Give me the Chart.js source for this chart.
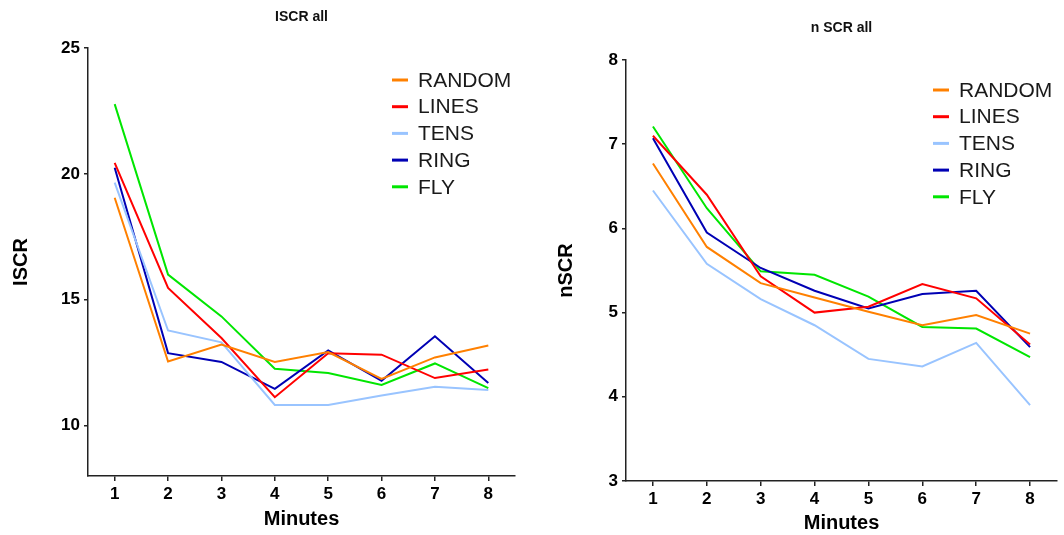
<!DOCTYPE html>
<html>
<head>
<meta charset="utf-8">
<script src="https://cdn.jsdelivr.net/npm/chart.js@4"></script>
<style>
  body { margin: 0; background: #fff; }
  #wrap { position: relative; width: 1064px; height: 535px; }
  canvas { position: absolute; top: 0; }
  #iscrChart { left: 0; }
  #nscrChart { left: 540px; }
</style>
</head>
<body>
<div id="wrap">
  <canvas id="iscrChart" width="540" height="535"></canvas>
  <canvas id="nscrChart" width="524" height="535"></canvas>
</div>
<script>
const minutes = ['1', '2', '3', '4', '5', '6', '7', '8'];
const groups = ['RANDOM', 'LINES', 'TENS', 'RING', 'FLY'];
const groupColors = ['#ff8000', '#ff0000', '#99c4ff', '#0000b4', '#00e600'];

// ISCR all
const iscrRandom = [19.05, 12.55, 13.22, 12.53, 12.92, 11.86, 12.71, 13.18];
const iscrLines  = [20.44, 15.47, 13.48, 11.13, 12.88, 12.82, 11.89, 12.23];
const iscrTens   = [19.65, 13.78, 13.31, 10.82, 10.82, 11.20, 11.54, 11.42];
const iscrRing   = [20.24, 12.88, 12.53, 11.46, 12.99, 11.78, 13.55, 11.69];
const iscrFly    = [22.77, 16.00, 14.34, 12.26, 12.09, 11.62, 12.47, 11.49];
const iscrTicks  = [10, 15, 20, 25];

// nSCR all
const nscrRandom = [6.77, 5.78, 5.35, 5.18, 5.01, 4.85, 4.97, 4.75];
const nscrLines  = [7.10, 6.40, 5.43, 5.00, 5.07, 5.34, 5.17, 4.62];
const nscrTens   = [6.45, 5.58, 5.16, 4.85, 4.45, 4.36, 4.64, 3.90];
const nscrRing   = [7.07, 5.95, 5.53, 5.26, 5.05, 5.22, 5.26, 4.59];
const nscrFly    = [7.21, 6.24, 5.49, 5.45, 5.19, 4.83, 4.81, 4.47];
const nscrTicks  = [3, 4, 5, 6, 7, 8];

const axisColor = '#222';
const tickFont = { family: 'Liberation Sans, Arial, sans-serif', size: 17, weight: 'bold' };
const axisTitleFont = { family: 'Liberation Sans, Arial, sans-serif', size: 20, weight: 'bold' };

// draws the panel title centred over the plot area
const panelTitle = {
  id: 'panelTitle',
  afterDraw(chart, args, opts) {
    const { ctx, chartArea } = chart;
    ctx.save();
    ctx.font = 'bold 14px Liberation Sans, Arial, sans-serif';
    ctx.fillStyle = '#111';
    ctx.textAlign = 'center';
    ctx.textBaseline = 'middle';
    ctx.fillText(opts.text, (chartArea.left + chartArea.right) / 2, opts.y);
    ctx.restore();
  }
};

// legend drawn inside the plot, like the original
const innerLegend = {
  id: 'innerLegend',
  afterDraw(chart, args, opts) {
    const ctx = chart.ctx;
    ctx.save();
    ctx.font = '21px Liberation Sans, Arial, sans-serif';
    ctx.textBaseline = 'middle';
    ctx.textAlign = 'left';
    chart.data.datasets.forEach((ds, i) => {
      const y = opts.y + i * opts.rowHeight;
      ctx.strokeStyle = ds.borderColor;
      ctx.lineWidth = 3;
      ctx.beginPath();
      ctx.moveTo(opts.x, y);
      ctx.lineTo(opts.x + 16, y);
      ctx.stroke();
      ctx.fillStyle = '#1a1a1a';
      ctx.fillText(ds.label, opts.x + 26, y + 1);
    });
    ctx.restore();
  }
};

function makeDatasets(seriesList) {
  return seriesList.map((values, i) => ({
    label: groups[i],
    data: values,
    borderColor: groupColors[i],
    backgroundColor: groupColors[i],
    borderWidth: 2,
    pointRadius: 0,
    tension: 0,
    fill: false
  }));
}

function makeChart(canvasId, cfg) {
  const ctx = document.getElementById(canvasId).getContext('2d');
  return new Chart(ctx, {
    type: 'line',
    data: {
      labels: minutes,
      datasets: makeDatasets(cfg.series)
    },
    options: {
      responsive: false,
      animation: false,
      layout: { padding: { top: cfg.top, right: cfg.right, bottom: 0, left: 0 } },
      plugins: {
        legend: { display: false },
        tooltip: { enabled: false },
        panelTitle: { text: cfg.title, y: cfg.titleY },
        innerLegend: { x: cfg.legendX, y: cfg.legendY, rowHeight: 26.7 }
      },
      scales: {
        x: {
          type: 'category',
          offset: true,
          afterFit: (scale) => { scale.height = cfg.xHeight; },
          grid: { offset: false, drawOnChartArea: false, drawTicks: true, tickLength: 5, color: axisColor, lineWidth: 1.5 },
          border: { display: true, color: axisColor, width: 1.5 },
          ticks: { color: '#000', font: tickFont, padding: 3, maxRotation: 0 },
          title: { display: true, text: 'Minutes', color: '#000', font: axisTitleFont, padding: { top: 0, bottom: cfg.xTitlePad } }
        },
        y: {
          min: cfg.min,
          max: cfg.max,
          afterFit: (scale) => { scale.width = cfg.yWidth; },
          afterBuildTicks: (scale) => { scale.ticks = cfg.ticks.map(v => ({ value: v })); },
          grid: { drawOnChartArea: false, drawTicks: true, tickLength: 4, color: axisColor, lineWidth: 1.5 },
          border: { display: true, color: axisColor, width: 1.5 },
          ticks: { color: '#000', font: tickFont, padding: 4 },
          title: { display: true, text: cfg.yTitle, color: '#000', font: axisTitleFont, padding: { top: cfg.yTitlePad, bottom: 0 } }
        }
      }
    },
    plugins: [panelTitle, innerLegend]
  });
}

makeChart('iscrChart', {
  series: [iscrRandom, iscrLines, iscrTens, iscrRing, iscrFly],
  ticks: iscrTicks, min: 8, max: 25,
  title: 'ISCR all', titleY: 17,
  yTitle: 'ISCR', yTitlePad: 9,
  top: 48, right: 25, yWidth: 88, xHeight: 59, xTitlePad: 4,
  legendX: 392, legendY: 80
});

makeChart('nscrChart', {
  series: [nscrRandom, nscrLines, nscrTens, nscrRing, nscrFly],
  ticks: nscrTicks, min: 3, max: 8,
  title: 'n SCR all', titleY: 28,
  yTitle: 'nSCR', yTitlePad: 14,
  top: 60, right: 7, yWidth: 86, xHeight: 54, xTitlePad: 0,
  legendX: 393, legendY: 90
});
</script>
</body>
</html>
